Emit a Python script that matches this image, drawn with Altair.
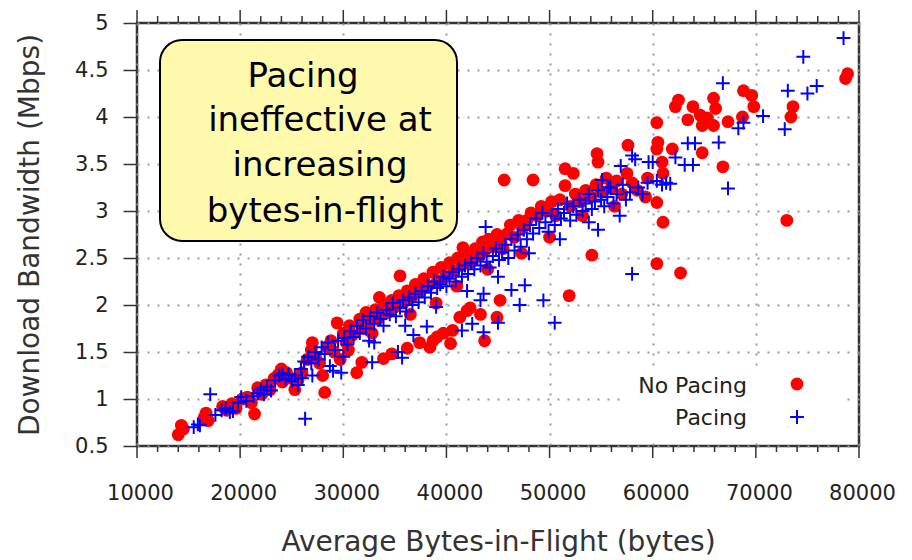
import altair as alt
import pandas as pd

# Average bytes-in-flight (bytes) vs. download bandwidth (Mbps), one pair per run
no_pacing = [
    (14000, 0.62), (14300, 0.72), (14500, 0.68), (16500, 0.80), (16700, 0.85), (16900, 0.77),
    (18300, 0.92), (18700, 0.88), (19200, 0.95), (19600, 0.90), (20200, 1.00), (20700, 1.02),
    (21100, 0.96), (21400, 0.84), (21700, 1.12), (22100, 1.05), (22500, 1.15), (22900, 1.10),
    (23300, 1.22), (23700, 1.26), (24100, 1.18), (24500, 1.28), (24900, 1.22), (25300, 1.10),
    (25600, 1.20), (26000, 1.28), (26500, 1.42), (26900, 1.52), (27300, 1.45), (27700, 1.38),
    (28000, 1.25), (28200, 1.07), (28500, 1.55), (28800, 1.62), (29100, 1.50), (29400, 1.81),
    (29700, 1.42), (30000, 1.70), (30300, 1.60), (30600, 1.78), (30900, 1.68), (31300, 1.28),
    (31800, 1.39), (31600, 1.85), (31900, 1.75), (32200, 1.92), (32500, 1.82), (32800, 1.70),
    (33100, 1.95), (33400, 1.86), (33900, 1.43), (34000, 2.00), (34300, 1.92), (34700, 1.48),
    (34700, 2.05), (35000, 1.98), (35500, 2.31), (35400, 2.10), (35800, 2.02), (36200, 1.54),
    (36200, 2.15), (36600, 2.08), (37000, 2.22), (37400, 1.60), (37400, 2.14), (37800, 2.28),
    (38200, 2.20), (38400, 1.55), (38700, 1.62), (38700, 2.35), (39100, 1.66), (39100, 2.25),
    (39500, 2.40), (39700, 1.70), (39900, 2.30), (40400, 1.59), (40300, 2.45), (40600, 1.73),
    (40700, 2.36), (41100, 2.50), (41300, 1.87), (41600, 2.61), (41500, 2.42), (42000, 1.94),
    (42000, 2.55), (42300, 1.97), (42400, 2.46), (42800, 2.60), (43300, 1.90), (43200, 2.52),
    (43500, 2.67), (43700, 1.62), (43700, 2.58), (44100, 2.70), (44500, 2.62), (44900, 1.87),
    (44900, 2.75), (45200, 2.05), (45300, 2.66), (45500, 2.60), (45600, 3.33), (45900, 2.76),
    (46200, 2.85), (46600, 2.72), (47000, 2.90), (47400, 2.82), (47800, 2.90), (48200, 2.98),
    (48400, 3.33), (48800, 2.95), (49200, 3.05), (49800, 3.00), (50200, 3.10), (50600, 2.95),
    (51000, 3.12), (51500, 3.45), (51500, 3.27), (51900, 2.10), (52300, 3.40), (52000, 3.05),
    (52500, 3.18), (53000, 3.10), (53500, 3.22), (54000, 3.15), (54100, 2.53), (54600, 3.61),
    (54700, 3.52), (54500, 3.28), (55000, 3.20), (55500, 3.35), (56000, 3.25), (56500, 3.32),
    (57000, 3.18), (57600, 3.70), (57500, 3.40), (58000, 3.30), (58500, 3.22), (59300, 3.15),
    (59500, 3.35), (60400, 3.09), (60400, 3.94), (60500, 3.73), (60400, 3.66), (60900, 3.52),
    (61000, 3.40), (61000, 2.88), (60400, 2.44), (61900, 3.66), (62200, 4.11), (62500, 4.18),
    (62700, 2.34), (63400, 3.97), (63900, 4.11), (64600, 4.02), (64800, 3.91), (64800, 3.62),
    (65300, 3.99), (65900, 4.20), (66100, 4.09), (65900, 3.91), (66800, 3.47), (67300, 3.95),
    (68700, 4.00), (68800, 4.28), (69600, 4.23), (69800, 4.11), (73000, 2.90), (73400, 4.00),
    (73600, 4.11), (78700, 4.41), (78900, 4.46),
    (24000, 1.32), (27000, 1.60), (30500, 1.52), (33500, 2.08), (36500, 1.90), (39000, 2.02),
    (41000, 2.20), (44000, 2.38), (47300, 2.55), (50000, 2.72), (53200, 2.95), (56300, 3.05),
]

pacing = [
    (15500, 0.70), (15900, 0.73), (16100, 0.72), (17100, 1.05), (17600, 0.83), (18200, 0.88),
    (18600, 0.90), (19000, 0.86), (19300, 0.87), (19800, 0.96), (20100, 1.02), (20600, 0.98),
    (21300, 1.03), (21700, 1.06), (22000, 1.10), (22300, 1.05), (22600, 1.13), (23000, 1.09),
    (23400, 1.20), (23800, 1.25), (24100, 1.27), (24400, 1.21), (24700, 1.26), (25000, 1.19),
    (25300, 1.25), (25600, 1.15), (26000, 1.22), (26300, 0.79), (25900, 1.32), (26200, 1.40),
    (26600, 1.45), (26900, 1.38), (27300, 1.50), (27600, 1.42), (27900, 1.55), (28200, 1.48),
    (28500, 1.60), (28700, 1.35), (29000, 1.30), (29200, 1.52), (29500, 1.62), (29800, 1.28),
    (30100, 1.65), (30400, 1.58), (30700, 1.72), (31000, 1.66), (31300, 1.78), (31600, 1.70),
    (31900, 1.84), (32200, 1.75), (32500, 1.62), (32800, 1.39), (32600, 1.88), (33000, 1.80),
    (33300, 1.92), (33600, 1.85), (33900, 1.78), (34200, 1.95), (34500, 1.90), (34800, 2.02),
    (35100, 1.88), (35300, 1.50), (35700, 1.44), (35500, 1.97), (35800, 2.05), (36100, 1.93),
    (36400, 2.08), (36800, 1.68), (36700, 2.00), (37000, 2.12), (37300, 2.03), (37600, 2.15),
    (37900, 2.08), (38100, 1.77), (38200, 2.20), (38500, 2.13), (38800, 2.25), (39100, 2.18),
    (39400, 2.22), (39700, 2.30), (40000, 2.20), (40300, 2.28), (40600, 2.35), (40900, 2.25),
    (41200, 2.38), (41500, 1.73), (41500, 2.30), (41800, 2.42), (42100, 2.33), (42500, 1.80),
    (42400, 2.45), (42700, 2.38), (43000, 2.50), (43300, 2.05), (43600, 2.12), (43600, 1.71),
    (43300, 2.42), (43600, 2.55), (43800, 2.83), (43900, 2.46), (44200, 2.40), (44500, 2.52),
    (44800, 2.60), (45000, 1.81), (45100, 2.48), (45400, 2.56), (45700, 2.64), (46000, 2.50),
    (46300, 2.16), (46300, 2.70), (46600, 2.58), (46900, 2.75), (47100, 2.00), (47200, 2.62),
    (47600, 2.21), (47500, 2.80), (47800, 2.70), (48100, 2.85), (48400, 2.76), (48700, 2.92),
    (49000, 2.82), (49400, 2.05), (49300, 2.98), (49600, 2.88), (49900, 2.78), (50200, 2.95),
    (50500, 1.81), (50500, 2.85), (50800, 3.02), (51100, 2.92), (51400, 2.98), (51700, 3.08),
    (52000, 2.90), (52300, 3.05), (52600, 2.96), (52900, 3.12), (53200, 3.00), (53500, 3.08),
    (53800, 3.18), (54100, 3.02), (54400, 3.10), (54700, 2.80), (54700, 3.22), (55000, 3.12),
    (55100, 3.33), (55300, 3.05), (55600, 3.15), (55700, 3.25), (55900, 3.25), (56200, 3.08),
    (56500, 3.18), (56800, 2.95), (56900, 3.48), (57100, 3.28), (57400, 3.12), (57800, 3.20),
    (58000, 3.59), (58000, 2.33), (58300, 3.55), (58600, 3.25), (59000, 3.18), (59500, 3.30),
    (59600, 3.52), (60000, 3.52), (60400, 3.32), (60900, 3.28), (61300, 3.30), (61700, 3.29),
    (62200, 3.57), (63100, 3.49), (63400, 3.72), (63900, 3.49), (64100, 3.72), (66400, 3.73),
    (67300, 3.24), (66800, 4.36), (68300, 3.88), (68800, 3.94), (70700, 4.01), (72800, 3.87),
    (73100, 4.28), (74600, 4.64), (75000, 4.25), (75900, 4.33), (78500, 4.84),
    (27000, 1.25), (30000, 1.45), (33000, 1.60), (36000, 1.78), (39000, 1.98), (42000, 2.15),
    (45000, 2.30), (48000, 2.55), (51000, 2.70), (53800, 2.88),
]

series_names = ["No Pacing", "Pacing"]
x_major = [10000, 20000, 30000, 40000, 50000, 60000, 70000, 80000]
x_minor = [12000, 14000, 16000, 18000, 22000, 24000, 26000, 28000,
           32000, 34000, 36000, 38000, 42000, 44000, 46000, 48000,
           52000, 54000, 56000, 58000, 62000, 64000, 66000, 68000,
           72000, 74000, 76000, 78000]
y_ticks = [0.5, 1, 1.5, 2, 2.5, 3, 3.5, 4, 4.5, 5]
note_lines = ["Pacing", "ineffective at", "increasing", "bytes-in-flight"]

W, H = 722, 423
FONT = "DejaVu Sans"
RED = "#ff0000"
BLUE = "#0000ff"
PLUS = "M-1,0L1,0M0,-1L0,1"

df_np = pd.DataFrame(no_pacing, columns=["bytes", "mbps"])
df_p = pd.DataFrame(pacing, columns=["bytes", "mbps"])

xs = alt.Scale(domain=[10000, 80000], nice=False, zero=False)
ys = alt.Scale(domain=[0.5, 5], nice=False, zero=False)

x_axis = alt.Axis(
    values=x_major, format="d", title="Average Bytes-in-Flight (bytes)",
    ticks=False, tickSize=0, domain=False, labelPadding=36, labelOffset=3,
    labelFont=FONT, labelFontSize=21, labelColor="#222", labelOverlap=False,
    labelFlush=False, titleFont=FONT, titleFontSize=28, titleFontWeight="normal",
    titleColor="#333", titlePadding=25,
    grid=True, gridColor="#999", gridDash=[2, 8], gridWidth=2,
)
y_axis = alt.Axis(
    values=y_ticks, format="~g", title="Download Bandwidth (Mbps)",
    ticks=True, tickSize=14, tickColor="#333", tickWidth=1.5, domain=False,
    labelPadding=15, labelFont=FONT, labelFontSize=21, labelColor="#222",
    labelOverlap=False, labelFlush=False, titleFont=FONT, titleFontSize=28,
    titleFontWeight="normal", titleColor="#333", titlePadding=30,
    grid=True, gridColor="#999", gridDash=[2, 8], gridWidth=2,
)

X = lambda f: alt.X(f, scale=xs, axis=x_axis, title="Average Bytes-in-Flight (bytes)")
Y = lambda f: alt.Y(f, scale=ys, axis=y_axis, title="Download Bandwidth (Mbps)")

red = alt.Chart(df_np).mark_circle(size=165, color=RED, opacity=1).encode(
    x=X("bytes:Q"), y=Y("mbps:Q"),
)
blue = alt.Chart(df_p).mark_point(
    shape=PLUS, size=190, filled=False, strokeWidth=2, color=BLUE, opacity=1
).encode(
    x=X("bytes:Q"), y=Y("mbps:Q"),
)

# Major and minor ticks on the bottom and top edges of the frame
def tick_layer(values, y0, y1):
    return alt.Chart(pd.DataFrame({"bytes": values})).mark_rule(
        color="#333", strokeWidth=1.5
    ).encode(
        x=X("bytes:Q"),
        y=alt.value(y0), y2=alt.value(y1),
    )

ticks = [
    tick_layer(x_major, H, H + 12), tick_layer(x_minor, H, H + 6),
    tick_layer(x_major, 0, -13), tick_layer(x_minor, 0, -7),
]

# Legend: labels on the left, symbols on the right, on a white patch
legend_bg = alt.Chart(pd.DataFrame({"k": [0]})).mark_rect(fill="white").encode(
    x=alt.value(484), x2=alt.value(706), y=alt.value(345), y2=alt.value(414)
)
leg_np = pd.DataFrame({"name": [series_names[0]]})
leg_p = pd.DataFrame({"name": [series_names[1]]})
legend = [
    alt.Chart(leg_np).mark_text(align="right", baseline="middle", font=FONT,
                                fontSize=22, color="#222").encode(
        text="name:N", x=alt.value(610), y=alt.value(363)),
    alt.Chart(leg_p).mark_text(align="right", baseline="middle", font=FONT,
                               fontSize=22, color="#222").encode(
        text="name:N", x=alt.value(610), y=alt.value(395)),
    alt.Chart(leg_np).mark_circle(size=165, color=RED, opacity=1).encode(
        x=alt.value(660), y=alt.value(361)),
    alt.Chart(leg_p).mark_point(shape=PLUS, size=190, filled=False,
                                strokeWidth=2, color=BLUE, opacity=1).encode(
        x=alt.value(660), y=alt.value(394)),
]

# Callout box with its four lines of text
note_df = pd.DataFrame({"line": note_lines})
note_box = alt.Chart(pd.DataFrame({"k": [0]})).mark_rect(
    fill="#fff9ae", stroke="black", strokeWidth=2, cornerRadius=22
).encode(x=alt.value(23), x2=alt.value(320), y=alt.value(17), y2=alt.value(218))

note_pos = [(166, 64), (183, 108), (183, 153), (188, 199)]
note_text = [
    alt.Chart(note_df.iloc[[i]]).mark_text(
        align="center", baseline="alphabetic", font=FONT, fontSize=34, color="black"
    ).encode(text="line:N", x=alt.value(px), y=alt.value(py))
    for i, (px, py) in enumerate(note_pos)
]

chart = alt.layer(
    red, blue, *ticks, legend_bg, *legend, note_box, *note_text
).properties(
    width=W, height=H,
    padding={"left": 137, "top": 23, "right": 53, "bottom": 114},
    autosize=alt.AutoSizeParams(type="none"),
    background="white",
).configure_view(stroke="#333", strokeWidth=2.5)

chart.save("out.html", embed_options={"renderer": "svg", "actions": False})
